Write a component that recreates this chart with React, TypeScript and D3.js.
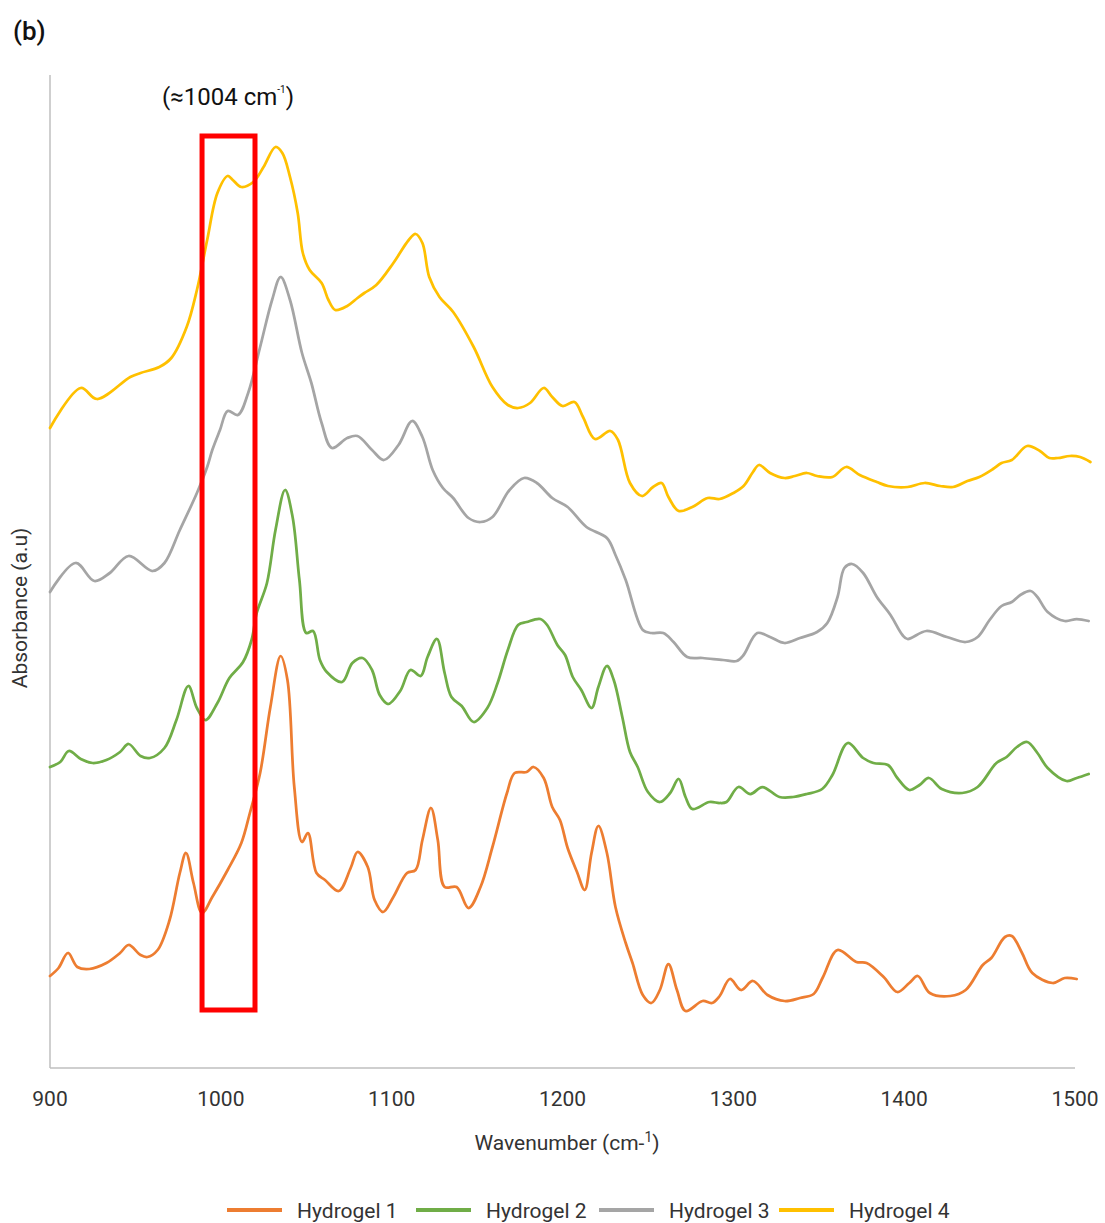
import React from "react";
import * as d3 from "d3";

// FTIR spectra, 900-1500 cm-1, stacked offsets (a.u.)

const xTicks = [900, 1000, 1100, 1200, 1300, 1400, 1500];

const seriesNames = ["Hydrogel 1", "Hydrogel 2", "Hydrogel 3", "Hydrogel 4"];
const seriesColors = ["#ED7D31", "#70AD47", "#A5A5A5", "#FFC000"];

const hydrogel1: [number, number][] = [
  [900, 0.092], [905, 0.1], [910.5, 0.115], [916, 0.101], [923, 0.099], [933, 0.105],
  [941, 0.115], [946, 0.123], [953, 0.113], [957, 0.111], [963, 0.118], [970, 0.148],
  [976, 0.195], [979.6, 0.215], [984, 0.185], [989, 0.155], [995, 0.171], [1004, 0.198],
  [1012, 0.225], [1017, 0.255], [1023, 0.295], [1029, 0.361], [1035, 0.412], [1039, 0.388],
  [1043, 0.281], [1047.5, 0.226], [1051, 0.235], [1056, 0.195], [1061, 0.188], [1069, 0.177],
  [1076, 0.2], [1080, 0.216], [1086, 0.201], [1090, 0.168], [1095, 0.156], [1101, 0.171],
  [1109, 0.195], [1114, 0.198], [1118, 0.228], [1123, 0.26], [1127, 0.228], [1131, 0.181],
  [1138, 0.181], [1145, 0.16], [1152, 0.181], [1159, 0.221], [1167.5, 0.275], [1172, 0.295],
  [1179, 0.296], [1183, 0.301], [1189, 0.29], [1194, 0.261], [1198.5, 0.248], [1203, 0.22],
  [1208.5, 0.196], [1213, 0.178], [1217, 0.215], [1221, 0.242], [1226, 0.215], [1231, 0.161],
  [1237, 0.125], [1241, 0.105], [1247, 0.073], [1252, 0.065], [1257, 0.078], [1262, 0.104],
  [1267, 0.078], [1272, 0.057], [1282, 0.067], [1287.5, 0.065], [1292, 0.072], [1298, 0.089],
  [1304.5, 0.078], [1311.5, 0.087], [1320, 0.073], [1330, 0.067], [1339, 0.07], [1347, 0.074],
  [1352.5, 0.091], [1361, 0.118], [1372, 0.106], [1378, 0.105], [1388, 0.091], [1396, 0.076],
  [1403, 0.085], [1408, 0.092], [1415, 0.075], [1427, 0.072], [1436, 0.078], [1446, 0.103],
  [1451, 0.11], [1459, 0.131], [1463, 0.132], [1469, 0.115], [1475, 0.095], [1487, 0.085],
  [1494, 0.09], [1501, 0.089],
];

const hydrogel2: [number, number][] = [
  [900, 0.301], [906, 0.306], [911, 0.317], [918, 0.309], [925, 0.305], [933, 0.308],
  [941, 0.316], [946, 0.324], [953, 0.312], [958.5, 0.31], [967, 0.32], [974, 0.348],
  [981, 0.382], [986, 0.36], [991, 0.348], [998, 0.365], [1005, 0.39], [1013, 0.406],
  [1018, 0.428], [1021, 0.455], [1027, 0.485], [1032, 0.538], [1037.6, 0.578], [1042, 0.551],
  [1046, 0.488], [1050, 0.435], [1054, 0.437], [1058, 0.408], [1062, 0.396], [1071, 0.386],
  [1077, 0.405], [1083, 0.41], [1088.5, 0.398], [1093, 0.373], [1098, 0.364], [1105, 0.377],
  [1111, 0.398], [1117, 0.392], [1121, 0.411], [1126.5, 0.429], [1131, 0.395], [1135, 0.371],
  [1141, 0.362], [1148, 0.346], [1156, 0.36], [1162, 0.385], [1168, 0.418], [1174, 0.443],
  [1179, 0.446], [1187, 0.449], [1191, 0.443], [1197, 0.423], [1201.5, 0.413], [1206, 0.391],
  [1211, 0.378], [1217, 0.36], [1221, 0.381], [1226, 0.402], [1230, 0.388], [1235, 0.351],
  [1239.5, 0.316], [1244, 0.301], [1250, 0.276], [1257, 0.266], [1263, 0.275], [1268, 0.289],
  [1272, 0.271], [1276, 0.259], [1286, 0.266], [1292, 0.265], [1296, 0.266], [1303, 0.281],
  [1310, 0.274], [1317, 0.281], [1327, 0.271], [1335, 0.271], [1343, 0.274], [1352, 0.279],
  [1358, 0.293], [1367, 0.325], [1376, 0.31], [1382, 0.305], [1390.5, 0.303], [1396, 0.29],
  [1403, 0.278], [1409, 0.283], [1414.5, 0.29], [1422, 0.279], [1434, 0.275], [1443, 0.281],
  [1454, 0.305], [1460, 0.311], [1466, 0.321], [1472, 0.326], [1478, 0.315], [1484, 0.3],
  [1495, 0.287], [1501, 0.29], [1508, 0.294],
];

const hydrogel3: [number, number][] = [
  [900, 0.476], [915, 0.505], [926, 0.487], [935, 0.495], [946, 0.512], [960, 0.497],
  [967, 0.505], [976, 0.538], [986, 0.575], [992, 0.601], [995, 0.618], [999.5, 0.638],
  [1004, 0.657], [1010, 0.653], [1016, 0.675], [1023, 0.721], [1030, 0.768], [1035, 0.791],
  [1040.5, 0.768], [1047.5, 0.715], [1053, 0.685], [1059, 0.645], [1065, 0.62], [1074, 0.63],
  [1080, 0.632], [1088.5, 0.618], [1095.5, 0.608], [1104, 0.623], [1112, 0.647], [1118, 0.631],
  [1124, 0.598], [1130, 0.58], [1136, 0.57], [1145, 0.55], [1152, 0.546], [1159, 0.551],
  [1169, 0.578], [1177.5, 0.59], [1185, 0.585], [1194, 0.57], [1203, 0.561], [1214, 0.541],
  [1226, 0.53], [1231, 0.513], [1237, 0.488], [1247, 0.438], [1252, 0.435], [1259, 0.435],
  [1265, 0.426], [1273, 0.411], [1282, 0.41], [1294, 0.408], [1302, 0.407], [1306, 0.413],
  [1314, 0.435], [1321.5, 0.431], [1330, 0.425], [1339, 0.43], [1349, 0.436], [1355, 0.445],
  [1361, 0.471], [1365, 0.5], [1369.5, 0.504], [1376, 0.495], [1384, 0.471], [1392, 0.453],
  [1399, 0.433], [1402, 0.429], [1413, 0.437], [1425, 0.431], [1436, 0.426], [1443, 0.431],
  [1450, 0.448], [1457, 0.462], [1463, 0.466], [1468, 0.473], [1474, 0.477], [1478, 0.471],
  [1484, 0.456], [1494, 0.447], [1501, 0.449], [1508, 0.447],
];

const hydrogel4: [number, number][] = [
  [900, 0.64], [918, 0.68], [927.5, 0.669], [947, 0.691], [953, 0.695], [964, 0.701],
  [971, 0.71], [980, 0.741], [986, 0.778], [992, 0.828], [998, 0.875], [1004, 0.892],
  [1007, 0.888], [1012, 0.881], [1019, 0.886], [1025, 0.901], [1032, 0.921], [1036, 0.915],
  [1040.5, 0.891], [1045, 0.855], [1048, 0.815], [1052, 0.798], [1059, 0.785], [1063, 0.768],
  [1067, 0.758], [1074, 0.762], [1080, 0.77], [1084, 0.775], [1091, 0.783], [1101, 0.805],
  [1110, 0.828], [1114, 0.834], [1118, 0.825], [1122, 0.791], [1128, 0.771], [1136, 0.756],
  [1148, 0.721], [1159, 0.681], [1168, 0.663], [1174, 0.66], [1181, 0.665], [1189, 0.68],
  [1194, 0.671], [1200, 0.662], [1207, 0.666], [1212, 0.651], [1219, 0.629], [1228, 0.637],
  [1232.5, 0.628], [1239.5, 0.585], [1246.5, 0.572], [1253, 0.581], [1258, 0.585], [1262, 0.571],
  [1268, 0.557], [1276, 0.561], [1285, 0.57], [1292, 0.569], [1300, 0.575], [1306, 0.582],
  [1311.5, 0.596], [1315, 0.603], [1321.5, 0.595], [1330, 0.59], [1336, 0.592], [1343, 0.595],
  [1349, 0.592], [1358, 0.591], [1366, 0.601], [1374, 0.593], [1384, 0.586], [1390.5, 0.582],
  [1402, 0.581], [1412, 0.585], [1421, 0.582], [1428.6, 0.581], [1437, 0.587], [1444, 0.591],
  [1452, 0.599], [1457, 0.605], [1463, 0.608], [1472, 0.622], [1479.5, 0.617], [1485, 0.61],
  [1490, 0.61], [1497, 0.612], [1503, 0.611], [1509, 0.606],
];

// highlighted band around 1004 cm-1
const bandRange = [989, 1020];
const bandHeight = [0.058, 0.932];

const width = 1105;
const height = 1223;
const font = "Roboto, 'Liberation Sans', sans-serif";

export default function App() {
  const x = d3.scaleLinear().domain([900, 1500]).range([50, 1075]);
  const y = d3.scaleLinear().domain([0, 1]).range([1068, 68]);

  const line = d3
    .line<[number, number]>()
    .x(d => x(d[0]))
    .y(d => y(d[1]))
    .curve(d3.curveCatmullRom.alpha(0.5));

  const allSeries = [hydrogel1, hydrogel2, hydrogel3, hydrogel4];
  // drawing order: yellow at back like the original? keep legend order
  const legendX = [227, 416, 599, 779];

  return (
    <svg
      width={width}
      height={height}
      style={{ position: "absolute", left: 0, top: 0, background: "#fff" }}
      fontFamily={font}
    >
      <text x={13} y={40} fontSize={26} fontWeight={500} fill="#111">(b)</text>

      {/* axes */}
      <line x1={x(900)} x2={x(900)} y1={y(0.993)} y2={y(0)} stroke="#BFBFBF" strokeWidth={1.5} />
      <line x1={x(900)} x2={x(1500)} y1={y(0)} y2={y(0)} stroke="#BFBFBF" strokeWidth={1.5} />

      {xTicks.map(t => (
        <text key={t} x={x(t)} y={1106} textAnchor="middle" fontSize={21} fill="#333">
          {t}
        </text>
      ))}

      <text x={567} y={1150} textAnchor="middle" fontSize={21} fill="#333">
        Wavenumber (cm-<tspan fontSize={14} dy={-8}>1</tspan><tspan dy={8}>)</tspan>
      </text>
      <text
        transform={`translate(27, ${y(0.46)}) rotate(-90)`}
        textAnchor="middle"
        fontSize={21}
        fill="#333"
      >
        Absorbance (a.u)
      </text>

      {allSeries.map((s, i) => (
        <path
          key={seriesNames[i]}
          d={line(s) || ""}
          fill="none"
          stroke={seriesColors[i]}
          strokeWidth={2.75}
          strokeLinejoin="round"
          strokeLinecap="round"
        />
      ))}

      {/* highlighted band */}
      <rect
        x={x(bandRange[0])}
        y={y(bandHeight[1])}
        width={x(bandRange[1]) - x(bandRange[0])}
        height={y(bandHeight[0]) - y(bandHeight[1])}
        fill="none"
        stroke="#FF0000"
        strokeWidth={5}
      />
      <text x={228} y={105} textAnchor="middle" fontSize={24} fill="#111">
        (≈1004 cm<tspan fontSize={10} dy={-12}>-1</tspan><tspan dy={12}>)</tspan>
      </text>

      {/* legend */}
      {seriesNames.map((name, i) => (
        <g key={name} transform={`translate(${legendX[i]}, 1210)`}>
          <line x1={0} x2={55} y1={0} y2={0} stroke={seriesColors[i]} strokeWidth={4} />
          <text x={70} y={8} fontSize={21} fill="#333">{name}</text>
        </g>
      ))}
    </svg>
  );
}
